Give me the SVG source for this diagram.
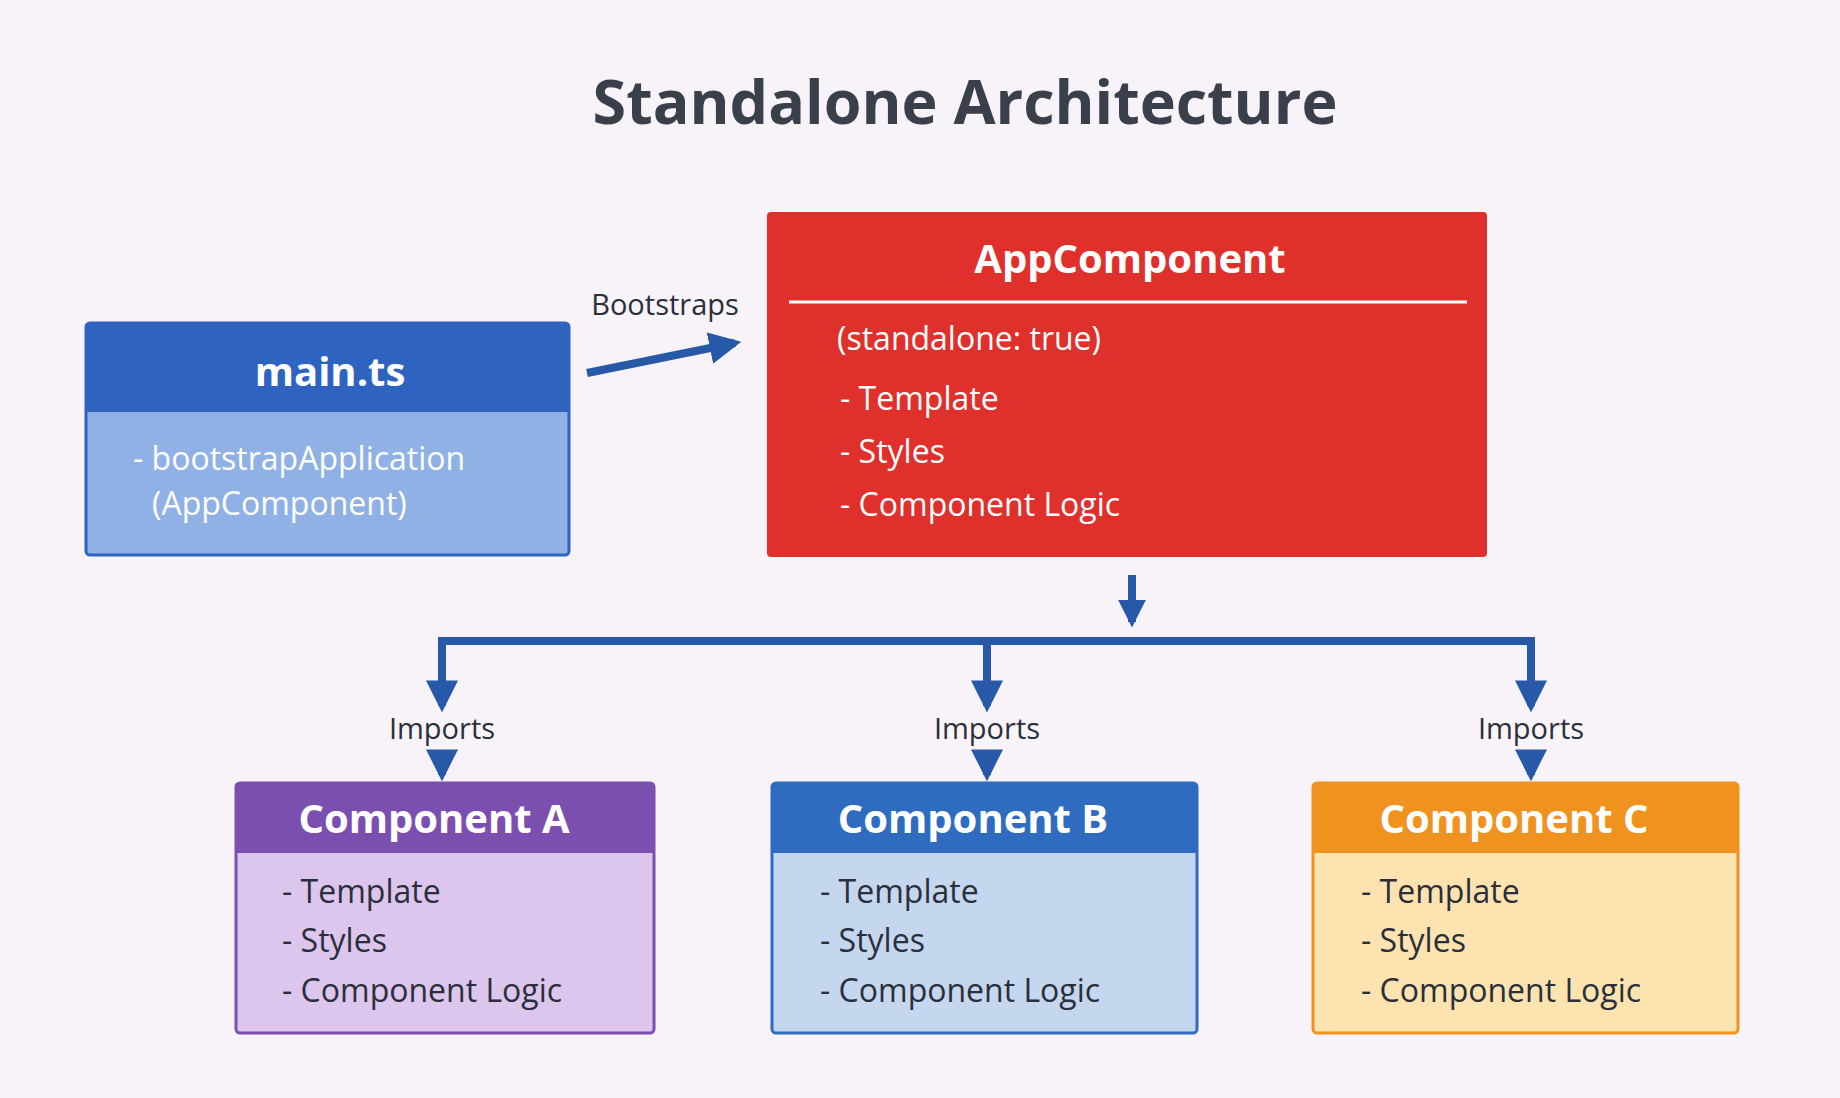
<svg xmlns="http://www.w3.org/2000/svg" width="1840" height="1098" viewBox="0 0 1840 1098">
<defs>
<style>
text{font-family:"Open Sans","Liberation Sans",sans-serif}
.t{font-size:61px;font-weight:bold;fill:#3a3f4c;text-anchor:middle}
.h{font-size:40px;font-weight:bold;fill:#fff;text-anchor:middle}
.w{font-size:32px;fill:#fff}
.d{font-size:32px;fill:#2a2f3a}
.l{font-size:29px;fill:#2a2f3a;text-anchor:middle}
.c{stroke:#2858a8;stroke-width:8;fill:none}
</style>
<marker id="ah" viewBox="0 0 10 10" refX="8" refY="5" markerWidth="4" markerHeight="4" orient="auto"><path d="M0,0L10,5L0,10z" fill="#2858a8"/></marker>
<marker id="ah2" viewBox="0 0 10 10" refX="8" refY="5" markerWidth="3.5" markerHeight="3.5" orient="auto"><path d="M0,0L10,5L0,10z" fill="#2858a8"/></marker>
</defs>
<rect width="1840" height="1098" fill="#f7f3f9"/>
<text class="t" x="965" y="124">Standalone Architecture</text>
<g id="connectors">
<line class="c" x1="587" y1="373" x2="735" y2="343" marker-end="url(#ah)"/>
<text class="l" x="665" y="315">Bootstraps</text>
<line class="c" x1="1132" y1="575" x2="1132" y2="622" marker-end="url(#ah2)"/>
<polyline class="c" points="442,706 442,641 1531,641 1531,706"/>
<line class="c" x1="442" y1="700" x2="442" y2="706" marker-end="url(#ah)"/>
<line class="c" x1="987" y1="641" x2="987" y2="706" marker-end="url(#ah)"/>
<line class="c" x1="1531" y1="700" x2="1531" y2="706" marker-end="url(#ah)"/>
<text class="l" x="442" y="739">Imports</text>
<text class="l" x="987" y="739">Imports</text>
<text class="l" x="1531" y="739">Imports</text>
<line class="c" stroke-width="6" x1="442" y1="751" x2="442" y2="775" marker-end="url(#ah)"/>
<line class="c" stroke-width="6" x1="987" y1="751" x2="987" y2="775" marker-end="url(#ah)"/>
<line class="c" stroke-width="6" x1="1531" y1="751" x2="1531" y2="775" marker-end="url(#ah)"/>
</g>
<g id="main">
<rect x="86" y="323" width="483" height="232" rx="4" fill="#8fb1e6" stroke="#2e63c0" stroke-width="3"/>
<path d="M86,412V327a4,4 0 0 1 4,-4H565a4,4 0 0 1 4,4V412z" fill="#2e63c0"/>
<text class="h" x="330" y="386">main.ts</text>
<text class="w" x="133" y="470">- bootstrapApplication</text>
<text class="w" x="152" y="515">(AppComponent)</text>
</g>
<g id="app">
<rect x="767" y="212" width="720" height="345" rx="4" fill="#e0302c"/>
<text class="h" x="1130" y="273">AppComponent</text>
<line x1="789" y1="302" x2="1467" y2="302" stroke="#fff" stroke-width="3"/>
<text class="w" x="837" y="350">(standalone: true)</text>
<text class="w" x="840" y="410">- Template</text>
<text class="w" x="840" y="463">- Styles</text>
<text class="w" x="840" y="516">- Component Logic</text>
</g>
<g id="compA">
<rect x="236" y="783" width="418" height="250" rx="4" fill="#dcc6ee" stroke="#7b4fb0" stroke-width="3"/>
<path d="M236,853V787a4,4 0 0 1 4,-4H650a4,4 0 0 1 4,4V853z" fill="#7b4fb0"/>
<text class="h" x="434" y="833">Component A</text>
<text class="d" x="282" y="903">- Template</text>
<text class="d" x="282" y="952">- Styles</text>
<text class="d" x="282" y="1002">- Component Logic</text>
</g>
<g id="compB">
<rect x="772" y="783" width="425" height="250" rx="4" fill="#c5d6ef" stroke="#2f6cbf" stroke-width="3"/>
<path d="M772,853V787a4,4 0 0 1 4,-4H1193a4,4 0 0 1 4,4V853z" fill="#2f6cbf"/>
<text class="h" x="973" y="833">Component B</text>
<text class="d" x="820" y="903">- Template</text>
<text class="d" x="820" y="952">- Styles</text>
<text class="d" x="820" y="1002">- Component Logic</text>
</g>
<g id="compC">
<rect x="1313" y="783" width="425" height="250" rx="4" fill="#fde3b0" stroke="#f0921e" stroke-width="3"/>
<path d="M1313,853V787a4,4 0 0 1 4,-4H1734a4,4 0 0 1 4,4V853z" fill="#f0921e"/>
<text class="h" x="1514" y="833">Component C</text>
<text class="d" x="1361" y="903">- Template</text>
<text class="d" x="1361" y="952">- Styles</text>
<text class="d" x="1361" y="1002">- Component Logic</text>
</g>
</svg>
